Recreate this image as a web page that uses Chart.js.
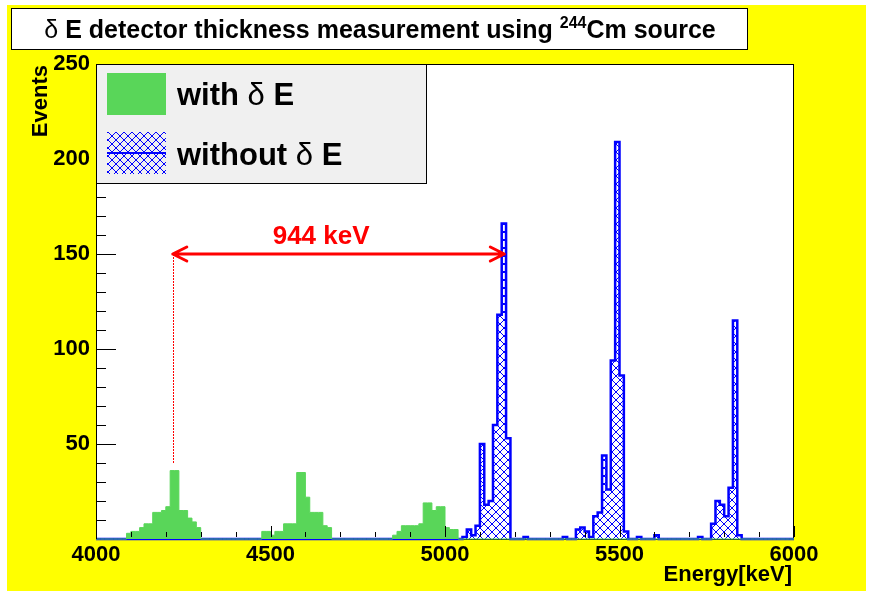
<!DOCTYPE html>
<html>
<head>
<meta charset="utf-8">
<title>dE detector thickness</title>
<script src="https://cdn.jsdelivr.net/npm/chart.js@4.4.1/dist/chart.umd.min.js"></script>
<style>
    html, body { margin: 0; padding: 0; background: #fff; }
    #wrap { position: relative; width: 871px; height: 594px; }
</style>
</head>
<body>
<div id="wrap"><canvas id="spectrum" width="871" height="594"></canvas></div>
<script>
// Histogram binning: 160 bins of 12.5 keV between 4000 and 6000 keV
const binStart = 4000;
const binWidth = 12.5;

// Bin contents, 16 bins per row
const withDeltaE = [
    0, 0, 0, 0, 0, 0, 0, 3, 4, 4, 6, 8, 8, 14, 14, 15,
    17, 36, 36, 15, 15, 11, 9, 6, 0, 0, 0, 0, 0, 0, 0, 0,
    0, 0, 0, 0, 0, 0, 4, 4, 2, 4, 4, 8, 8, 8, 35, 35,
    22, 14, 14, 14, 7, 6, 0, 0, 0, 0, 0, 0, 0, 0, 0, 0,
    0, 0, 0, 0, 2, 4, 7, 7, 7, 7, 8, 19, 19, 15, 17, 17,
    6, 5, 5, 0, 0, 0, 0, 0, 0, 0, 0, 0, 0, 0, 0, 0,
    0, 0, 0, 0, 0, 0, 0, 0, 0, 0, 0, 0, 0, 0, 0, 0,
    0, 0, 0, 0, 0, 0, 0, 0, 0, 0, 0, 0, 0, 0, 0, 0,
    0, 0, 0, 0, 0, 0, 0, 0, 0, 0, 0, 0, 0, 0, 0, 0,
    0, 0, 0, 0, 0, 0, 0, 0, 0, 0, 0, 0, 0, 0, 0, 0
];
const withoutDeltaE = [
    0, 0, 0, 0, 0, 0, 0, 0, 0, 0, 0, 0, 0, 0, 0, 0,
    0, 0, 0, 0, 0, 0, 0, 0, 0, 0, 0, 0, 0, 0, 0, 0,
    0, 0, 0, 0, 0, 0, 0, 0, 0, 0, 0, 0, 0, 0, 0, 0,
    0, 0, 0, 0, 0, 0, 0, 0, 0, 0, 0, 0, 0, 0, 0, 0,
    0, 0, 0, 0, 0, 0, 0, 0, 0, 0, 0, 0, 0, 0, 0, 0,
    0, 0, 0, 0, 1, 5, 2, 7, 50, 18, 20, 60, 118, 166, 53, 0,
    0, 0, 1, 0, 0, 0, 0, 0, 0, 0, 0, 1, 0, 0, 5, 6,
    4, 1, 12, 14, 44, 26, 94, 209, 86, 4, 0, 0, 1, 0, 0, 0,
    2, 0, 0, 0, 0, 0, 0, 0, 0, 0, 1, 0, 0, 8, 20, 18,
    12, 27, 115, 2, 0, 0, 0, 0, 0, 0, 0, 0, 0, 0, 0, 0
];

// Axis ranges and ticks
const xMin = 4000, xMax = 6000, xMajor = 500, xMinor = 100;
const yMin = 0, yMax = 250, yMajor = 50, yMinor = 10;

// Energy shift annotation
const shiftFrom = 4220;
const shiftTo = 5170;
const shiftLevel = 150;
const shiftFloor = 40;
const shiftLabel = '944 keV';
const shiftLabelAt = 4645;

const GREEN = 'rgb(89, 214, 89)';
const BLUE = '#0000ff';
const RED = '#ff0000';
const FONT = '"Liberation Sans", Arial, Helvetica, sans-serif';

// Turn bin contents into left-edge points for a stepped line
function toSteps(counts) {
    const pts = counts.map((c, i) => ({ x: binStart + i * binWidth, y: c }));
    pts.push({ x: binStart + counts.length * binWidth, y: counts[counts.length - 1] });
    return pts;
}

function crossHatch() {
    const c = document.createElement('canvas');
    c.width = 8;
    c.height = 8;
    const g = c.getContext('2d');
    g.strokeStyle = BLUE;
    g.lineWidth = 1;
    g.beginPath();
    g.moveTo(-1, -1); g.lineTo(9, 9);
    g.moveTo(9, -1); g.lineTo(-1, 9);
    g.stroke();
    return g.createPattern(c, 'repeat');
}

// Draw text pieces one after another (bold / symbol / superscript)
function drawRuns(ctx, runs, x, y) {
    let cx = x;
    runs.forEach(r => {
        ctx.font = r.font;
        ctx.fillText(r.text, cx, y - (r.rise || 0));
        cx += ctx.measureText(r.text).width;
    });
    return cx;
}
function runsWidth(ctx, runs) {
    let w = 0;
    runs.forEach(r => { ctx.font = r.font; w += ctx.measureText(r.text).width; });
    return w;
}

// Canvas colours: yellow pad, white frame, frame line under the histograms
const background = {
    id: 'background',
    beforeDraw(chart) {
        const { ctx, chartArea: a } = chart;
        ctx.save();
        ctx.fillStyle = '#fff';
        ctx.fillRect(0, 0, chart.width, chart.height);
        ctx.fillStyle = '#ffff00';
        ctx.fillRect(7, 5, 859, 586);
        ctx.fillStyle = '#fff';
        ctx.fillRect(a.left, a.top, a.right - a.left, a.bottom - a.top);
        ctx.restore();
    },
    beforeDatasetsDraw(chart) {
        const { ctx, chartArea: a } = chart;
        ctx.save();
        ctx.strokeStyle = '#000';
        ctx.lineWidth = 1;
        ctx.strokeRect(a.left + 0.5, a.top + 0.5, a.right - a.left - 1, a.bottom - a.top);
        ctx.restore();
    }
};

const decorations = {
    id: 'decorations',
    afterDraw(chart) {
        const { ctx, chartArea: a, scales: { x, y } } = chart;
        ctx.save();

        // ticks drawn inside the frame, ROOT style
        ctx.strokeStyle = '#000';
        ctx.lineWidth = 1;
        ctx.beginPath();
        for (let v = xMin; v <= xMax; v += xMinor) {
            const px = Math.round(x.getPixelForValue(v)) + 0.5;
            const len = v % xMajor === 0 ? 13 : 7;
            ctx.moveTo(px, a.bottom - 2);
            ctx.lineTo(px, a.bottom - len);
        }
        ctx.moveTo(a.left + 0.5, a.top);
        ctx.lineTo(a.left + 0.5, a.bottom);
        for (let v = yMin + yMinor; v <= yMax; v += yMinor) {
            const py = Math.round(y.getPixelForValue(v)) + 0.5;
            const len = v % yMajor === 0 ? 20 : 10;
            ctx.moveTo(a.left, py);
            ctx.lineTo(a.left + len, py);
        }
        ctx.stroke();

        // dotted marker down to the first green peak
        const mx = Math.round(x.getPixelForValue(shiftFrom));
        ctx.fillStyle = RED;
        const yTop = Math.round(y.getPixelForValue(shiftLevel));
        const yBot = Math.round(y.getPixelForValue(shiftFloor));
        for (let py = yTop; py < yBot; py += 3) {
            ctx.fillRect(mx, py, 1, 2);
        }

        // double arrow
        const ax1 = x.getPixelForValue(shiftFrom);
        const ax2 = x.getPixelForValue(shiftTo);
        const ay = y.getPixelForValue(shiftLevel);
        ctx.strokeStyle = RED;
        ctx.lineWidth = 3;
        ctx.lineCap = 'round';
        ctx.lineJoin = 'round';
        ctx.beginPath();
        ctx.moveTo(ax1, ay); ctx.lineTo(ax2, ay);
        ctx.moveTo(ax1 + 14, ay - 7); ctx.lineTo(ax1, ay); ctx.lineTo(ax1 + 14, ay + 7);
        ctx.moveTo(ax2 - 14, ay - 7); ctx.lineTo(ax2, ay); ctx.lineTo(ax2 - 14, ay + 7);
        ctx.stroke();
        ctx.font = 'bold 26px ' + FONT;
        ctx.textAlign = 'center';
        ctx.textBaseline = 'alphabetic';
        ctx.fillText(shiftLabel, x.getPixelForValue(shiftLabelAt), ay - 10);

        // legend box
        ctx.lineCap = 'butt';
        ctx.lineJoin = 'miter';
        ctx.fillStyle = 'rgb(240, 240, 240)';
        ctx.fillRect(a.left, a.top, 330, 119);
        ctx.strokeStyle = '#000';
        ctx.lineWidth = 1;
        ctx.strokeRect(a.left + 0.5, a.top + 0.5, 330, 119);
        ctx.fillStyle = GREEN;
        ctx.fillRect(a.left + 11, a.top + 9, 59, 42);
        ctx.fillStyle = crossHatch();
        ctx.fillRect(a.left + 11, a.top + 68, 59, 42);
        ctx.strokeStyle = BLUE;
        ctx.lineWidth = 2;
        ctx.beginPath();
        ctx.moveTo(a.left + 11, a.top + 89);
        ctx.lineTo(a.left + 70, a.top + 89);
        ctx.stroke();
        ctx.fillStyle = '#000';
        ctx.textAlign = 'left';
        const lb = 'bold 31px ' + FONT;
        const ls = '31px ' + FONT;
        drawRuns(ctx, [{ text: 'with ', font: lb }, { text: 'δ', font: ls }, { text: ' E', font: lb }], a.left + 81, a.top + 41);
        drawRuns(ctx, [{ text: 'without ', font: lb }, { text: 'δ', font: ls }, { text: ' E', font: lb }], a.left + 81, a.top + 101);

        // title box
        ctx.strokeStyle = '#000';
        ctx.lineWidth = 1;
        ctx.fillStyle = '#fff';
        ctx.fillRect(12, 8, 736, 41);
        ctx.strokeRect(11.5, 8.5, 736, 41);
        ctx.fillStyle = '#000';
        const tb = 'bold 25px ' + FONT;
        const titleRuns = [
            { text: 'δ', font: '25px ' + FONT },
            { text: ' E detector thickness measurement using ', font: tb },
            { text: '244', font: 'bold 16px ' + FONT, rise: 10 },
            { text: 'Cm source', font: tb }
        ];
        const tw = runsWidth(ctx, titleRuns);
        drawRuns(ctx, titleRuns, 380 - tw / 2, 38);

        // axis titles
        ctx.font = 'bold 22px ' + FONT;
        ctx.textAlign = 'right';
        ctx.fillText('Energy[keV]', 792, 581);
        ctx.save();
        ctx.translate(47, 65);
        ctx.rotate(-Math.PI / 2);
        ctx.fillText('Events', 0, 0);
        ctx.restore();

        ctx.restore();
    }
};

new Chart(document.getElementById('spectrum'), {
    type: 'line',
    data: {
        datasets: [{
            label: 'with δ E',
            data: toSteps(withDeltaE),
            stepped: true,
            borderColor: GREEN,
            borderWidth: 1,
            backgroundColor: GREEN,
            fill: 'origin',
            pointRadius: 0,
            clip: false
        }, {
            label: 'without δ E',
            data: toSteps(withoutDeltaE),
            stepped: true,
            borderColor: BLUE,
            borderWidth: 2.5,
            borderJoinStyle: 'miter',
            backgroundColor: crossHatch(),
            fill: 'origin',
            pointRadius: 0,
            clip: false
        }]
    },
    options: {
        responsive: false,
        animation: false,
        events: [],
        layout: { padding: { top: 64, right: 77, left: 0, bottom: 0 } },
        plugins: {
            legend: { display: false },
            tooltip: { enabled: false }
        },
        scales: {
            x: {
                type: 'linear',
                min: xMin,
                max: xMax,
                afterFit: scale => { scale.height = 55; },
                afterBuildTicks: scale => {
                    const t = [];
                    for (let v = xMin; v <= xMax; v += xMajor) t.push({ value: v });
                    scale.ticks = t;
                },
                grid: { display: false, drawTicks: false },
                border: { display: false },
                ticks: {
                    color: '#000',
                    padding: 3,
                    maxRotation: 0,
                    font: { family: FONT, size: 22, weight: 'bold' },
                    callback: v => String(v)
                }
            },
            y: {
                min: yMin,
                max: yMax,
                afterFit: scale => { scale.width = 96; },
                grid: { display: false, drawTicks: false },
                border: { display: false },
                ticks: {
                    stepSize: yMajor,
                    color: '#000',
                    padding: 6,
                    font: { family: FONT, size: 22, weight: 'bold' },
                    callback: v => (v === 0 ? '' : String(v))
                }
            }
        }
    },
    plugins: [background, decorations]
});
</script>
</body>
</html>
